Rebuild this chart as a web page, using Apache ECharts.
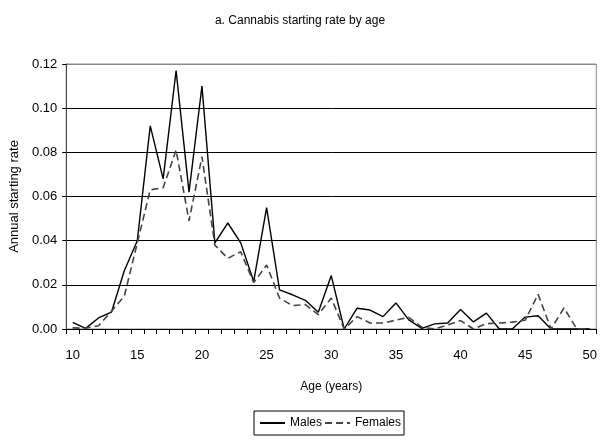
<!DOCTYPE html>
<html>
<head>
<meta charset="utf-8">
<script src="https://cdn.jsdelivr.net/npm/echarts@6/dist/echarts.min.js"></script>
<style>
  html, body { margin: 0; padding: 0; background: #fff; }
  #chart { width: 600px; height: 441px; }
</style>
</head>
<body>
<div id="chart"></div>
<script>
// age categories 10..50
var ages = [];
for (var a = 10; a <= 50; a++) ages.push(String(a));

// annual starting rate
var males = [0.003, 0.0003, 0.005, 0.0076, 0.0265, 0.040, 0.092, 0.068, 0.117, 0.062,
             0.110, 0.039, 0.048, 0.039, 0.0215, 0.055, 0.0177, 0.0155, 0.013, 0.0076,
             0.0242, 0, 0.0094, 0.0086, 0.0056, 0.0118, 0.0041, 0.0003, 0.0023, 0.0027,
             0.0088, 0.0032, 0.0072, 0, 0, 0.0054, 0.006, 0, 0, 0, 0];
var females = [0.0005, 0.0003, 0.0015, 0.008, 0.015, 0.039, 0.063, 0.064, 0.081, 0.049,
               0.078, 0.038, 0.032, 0.035, 0.021, 0.029, 0.014, 0.0106, 0.011, 0.0065,
               0.014, 0, 0.0056, 0.0027, 0.0027, 0.004, 0.0053, 0.0008, 0, 0.0018,
               0.0038, 0, 0.0024, 0.0027, 0.0031, 0.004, 0.0157, 0, 0.0095, 0, 0];

var font = '"Liberation Sans", Arial, sans-serif';

var myChart = echarts.init(document.getElementById('chart'), null, { renderer: 'canvas' });

var options = {
    animation: false,
    title: {
        text: 'a. Cannabis starting rate by age',
        left: 'center',
        top: 10,
        textStyle: { fontFamily: font, fontSize: 12, fontWeight: 'normal', color: '#000' }
    },
    legend: {
        data: ['Males', 'Females'],
        left: 254,
        top: 411,
        itemWidth: 25,
        itemHeight: 10,
        itemGap: 2,
        padding: [6, 3, 6, 5],
        borderColor: '#000',
        borderWidth: 1,
        borderRadius: 0,
        itemStyle: { opacity: 0 },
        textStyle: { fontFamily: font, fontSize: 12, color: '#000' }
    },
    grid: {
        left: 62,
        right: 3,
        top: 64,
        bottom: 112,
        show: true,
        borderColor: '#888',
        borderWidth: 1
    },
    xAxis: {
        type: 'category',
        data: ages,
        boundaryGap: true,
        name: 'Age (years)',
        nameLocation: 'middle',
        nameGap: 52,
        nameTextStyle: { fontFamily: font, fontSize: 12, color: '#000' },
        axisLine: { lineStyle: { color: '#000', width: 1 } },
        axisTick: { show: true, interval: 0, length: 5, lineStyle: { color: '#000', width: 1 } },
        axisLabel: {
            interval: 4,
            margin: 20,
            fontFamily: font,
            fontSize: 13,
            color: '#000'
        },
        splitLine: { show: false }
    },
    yAxis: {
        type: 'value',
        min: 0,
        max: 0.12,
        interval: 0.02,
        name: 'Annual starting rate',
        nameLocation: 'middle',
        nameGap: 37,
        nameTextStyle: { fontFamily: font, fontSize: 13, color: '#000' },
        axisLine: { show: true, lineStyle: { color: '#444', width: 1 } },
        axisTick: { show: true, length: 4, lineStyle: { color: '#000' } },
        axisLabel: {
            margin: 9,
            fontFamily: font,
            fontSize: 13,
            color: '#000',
            formatter: function(v) { return v.toFixed(2); }
        },
        splitLine: {
            show: true,
            lineStyle: { color: ['#000', '#000', '#000', '#000', '#000', '#000', '#888'], width: 1 }
        }
    },
    series: [{
        name: 'Males',
        type: 'line',
        data: males,
        symbol: 'none',
        lineStyle: { color: '#000', width: 1.4, type: 'solid' },
        itemStyle: { color: '#000' }
    }, {
        name: 'Females',
        type: 'line',
        data: females,
        symbol: 'none',
        lineStyle: { color: '#444', width: 1.6, type: [7, 4] },
        itemStyle: { color: '#444' }
    }]
};
myChart.setOption(options);
</script>
</body>
</html>
